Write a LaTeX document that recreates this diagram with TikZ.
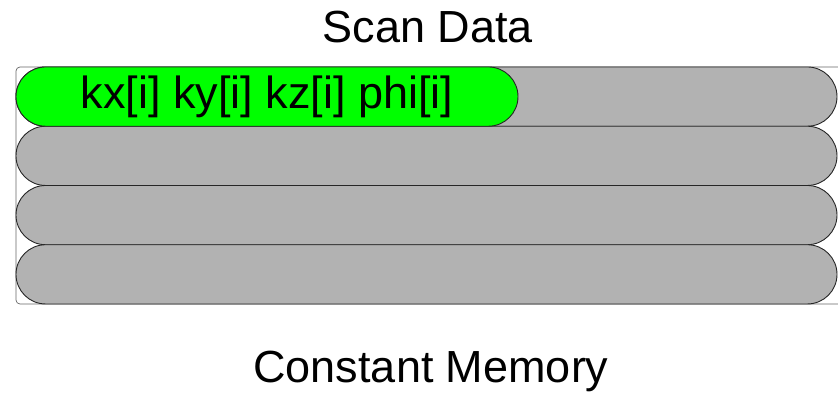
\documentclass[tikz,border=0pt]{standalone}
\usepackage{fontspec}
\setmainfont{Liberation Sans}
\usetikzlibrary{positioning, shapes.misc}

\begin{document}
\begin{tikzpicture}[x=1pt, y=1pt, node distance=0pt,
    every node/.style={font=\fontsize{45}{54}\selectfont},
    slot/.style={draw=black!85, line width=0.9pt, fill=black!30, rounded rectangle,
      minimum width=821pt, minimum height=59.25pt, inner sep=0pt, outer sep=0pt}]
  \useasboundingbox (0,0) rectangle (838,392);
  \draw[black!60, line width=0.7pt, rounded corners=4pt] (16,88) rectangle (850,325);
  \node[slot]                   (row 1) at (426.5,295.4) {};
  \node[slot, below=of row 1]   (row 2) {};
  \node[slot, below=of row 2]   (row 3) {};
  \node[slot, below=of row 3]   (row 4) {};
  \node[slot, fill=green, minimum width=502pt, anchor=west] (entry) at (row 1.west) {kx[i] ky[i] kz[i] phi[i]};
  \node[anchor=base] (title)   at (428,349) {Scan Data};
  \node[anchor=base] (caption) at (431,10)  {Constant Memory};
\end{tikzpicture}
\end{document}
